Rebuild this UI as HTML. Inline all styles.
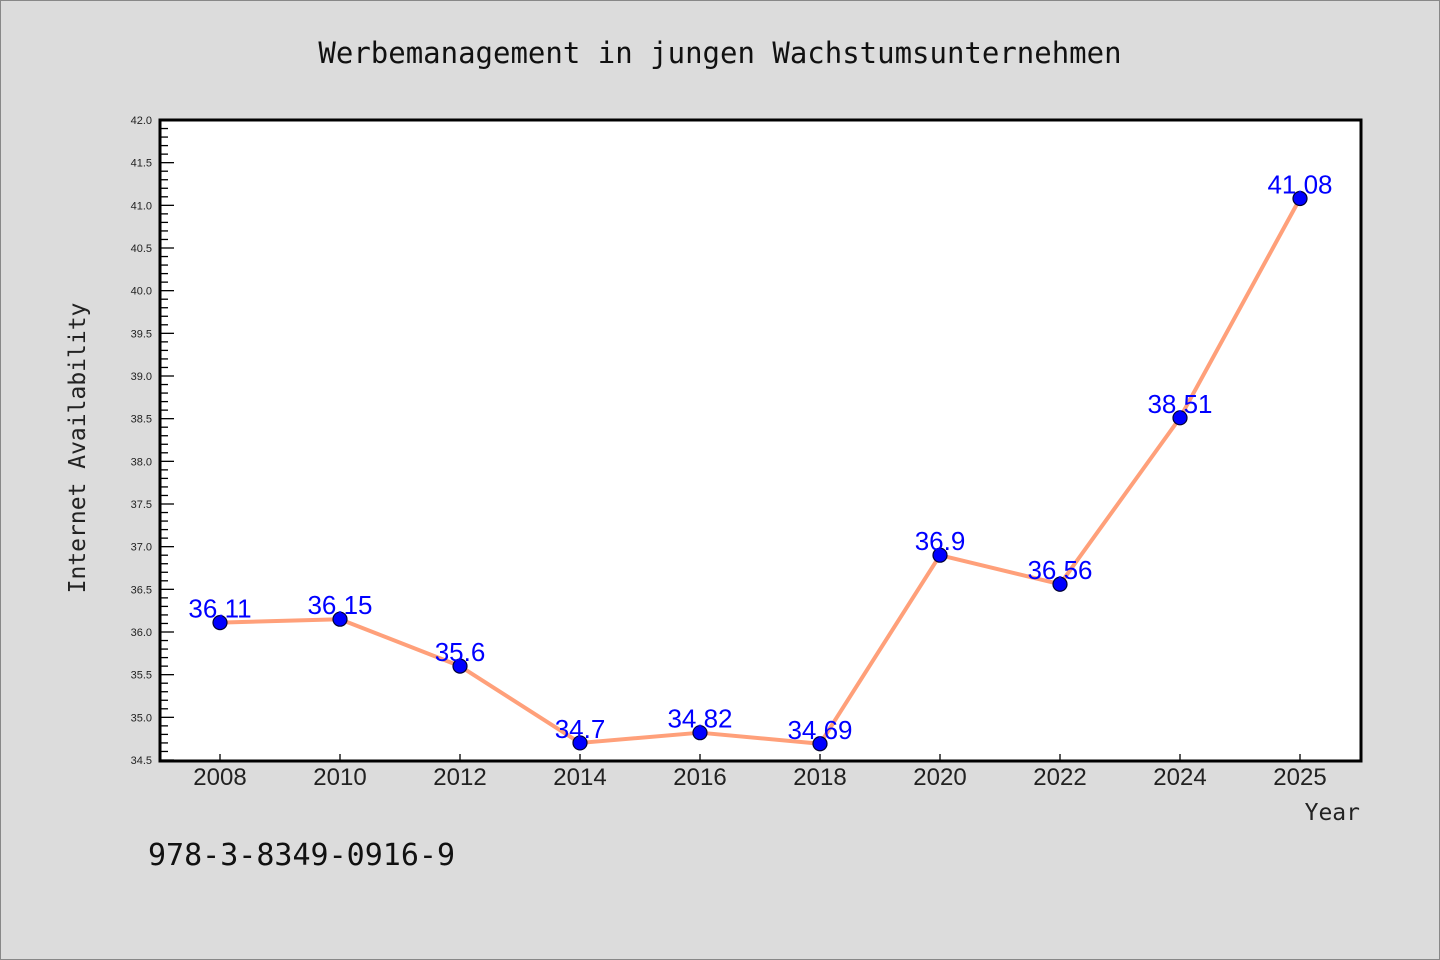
<!DOCTYPE html>
<html><head><meta charset="utf-8"><style>
body{margin:0;background:#dcdcdc}
svg{display:block}
</style></head><body>
<svg width="1440" height="960" xmlns="http://www.w3.org/2000/svg">
<rect x="0.5" y="0.5" width="1439" height="959" fill="#dcdcdc" stroke="#888"/>
<text x="720" y="63" text-anchor="middle" font-family="'DejaVu Sans Mono',monospace" font-size="29" fill="#111">Werbemanagement in jungen Wachstumsunternehmen</text>
<rect x="160" y="120" width="1201" height="641" fill="#fff"/>
<g id="yaxis"></g>
<g id="xaxis"></g>
<g id="series"></g>
<rect x="160" y="120" width="1201" height="641" fill="none" stroke="#000" stroke-width="3"/>
<text transform="translate(85,448) rotate(-90)" text-anchor="middle" font-family="'DejaVu Sans Mono',monospace" font-size="23" fill="#222">Internet Availability</text>
<text x="1360" y="820" text-anchor="end" font-family="'DejaVu Sans Mono',monospace" font-size="23" fill="#222">Year</text>
<text x="148" y="865" font-family="'DejaVu Sans Mono',monospace" font-size="30" fill="#111">978-3-8349-0916-9</text>
</svg>
<script>
const categories=["2008","2010","2012","2014","2016","2018","2020","2022","2024","2025"];
const values=[36.11,36.15,35.6,34.7,34.82,34.69,36.9,36.56,38.51,41.08];
const valueLabels=["36.11","36.15","35.6","34.7","34.82","34.69","36.9","36.56","38.51","41.08"];
const yMin=34.5,yMax=42.0;
const NS="http://www.w3.org/2000/svg";
const X0=160,X1=1361,Y0=760,Y1=120;
function xs(i){return 220+i*120;}
function ys(v){return Y0-(v-yMin)/(yMax-yMin)*(Y0-Y1);}
function mk(t,a,p){const e=document.createElementNS(NS,t);for(const k in a)e.setAttribute(k,a[k]);p.appendChild(e);return e;}
const ya=document.getElementById('yaxis');
for(let k=0;k<=75;k++){
  const v=yMin+k*0.1,y=ys(v),major=k%5===0;
  const l=mk('line',{x1:X0,x2:X0+(major?14:8),y1:y,y2:y,stroke:'#000','stroke-width':1.3},ya);
  
  
  if(major){
    const t=mk('text',{x:152,y:y+4,'text-anchor':'end','font-family':'Liberation Sans,sans-serif','font-size':11,fill:'#222'},ya);
    t.textContent=v.toFixed(1);
    
    
  }
}
const xa=document.getElementById('xaxis');
categories.forEach((c,i)=>{
  const x=xs(i);
  const l=mk('line',{x1:x,x2:x,y1:Y0,y2:Y0-6,stroke:'#000','stroke-width':1.3},xa);
  
  
  const t=mk('text',{x:x,y:785,'text-anchor':'middle','font-family':'Liberation Sans,sans-serif','font-size':24,fill:'#222'},xa);
  t.textContent=c;
  
  
});
const sg=document.getElementById('series');
const pl=mk('polyline',{points:values.map((v,i)=>xs(i)+','+ys(v)).join(' '),fill:'none',stroke:'#ffa07a','stroke-width':4,'stroke-linejoin':'round'},sg);


values.forEach((v,i)=>{
  const c=mk('circle',{cx:xs(i),cy:ys(v),r:7,fill:'#0000ff',stroke:'#000033','stroke-width':1.2},sg);
  
  
  const t=mk('text',{x:xs(i),y:ys(v)-5,'text-anchor':'middle','font-family':'Liberation Sans,sans-serif','font-size':26,fill:'#0000ff'},sg);
  t.textContent=valueLabels[i];
  
  
});
</script>
</body></html>
